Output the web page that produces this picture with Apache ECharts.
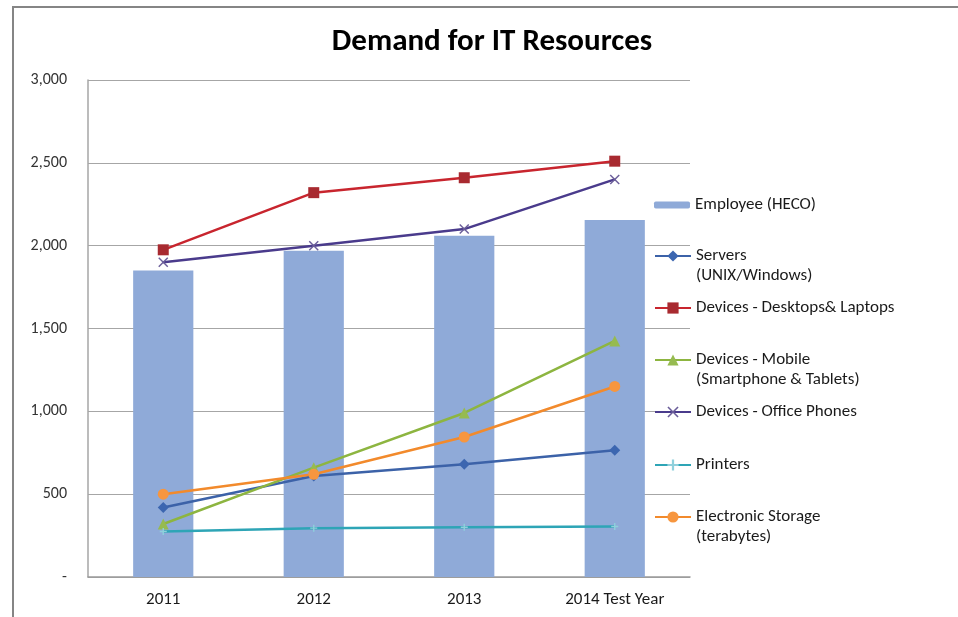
<!DOCTYPE html>
<html>
<head>
<meta charset="utf-8">
<script src="https://cdn.jsdelivr.net/npm/echarts@6/dist/echarts.min.js"></script>
<style>
  html, body { margin: 0; padding: 0; background: #fff; }
  #wrap { position: relative; width: 958px; height: 617px; overflow: hidden; }
  #chart { position: absolute; left: 0; top: 0; width: 958px; height: 617px; }
  #frame { position: absolute; left: 12px; top: 6px; width: 1000px; height: 700px;
           border-left: 2px solid #858585; border-top: 2px solid #858585; pointer-events: none; }
</style>
</head>
<body>
<div id="wrap">
  <div id="chart"></div>
  <div id="frame"></div>
</div>
<script>
// Yearly demand for IT resources
const categories = ['2011', '2012', '2013', '2014 Test Year'];
const employees = [1850, 1970, 2060, 2155];
const servers = [420, 610, 680, 765];
const desktops = [1975, 2320, 2410, 2510];
const mobile = [320, 660, 990, 1425];
const officePhones = [1900, 2000, 2100, 2400];
const printers = [275, 295, 300, 305];
const storage = [500, 620, 845, 1150];

const FONT = 'Carlito, Lato, "Open Sans", sans-serif';
const LINE_H = 20;

// legend labels: first line sits next to the key, extra lines hang below
const legendItems = [
  { name: 'Employee (HECO)', lines: ['Employee (HECO)'], y: 205 },
  { name: 'Servers (UNIX/Windows)', lines: ['Servers', '(UNIX/Windows)'], y: 256 },
  { name: 'Devices - Desktops& Laptops', lines: ['Devices - Desktops& Laptops'], y: 308 },
  { name: 'Devices - Mobile (Smartphone & Tablets)', lines: ['Devices - Mobile', '(Smartphone & Tablets)'], y: 360 },
  { name: 'Devices - Office Phones', lines: ['Devices - Office Phones'], y: 412 },
  { name: 'Printers', lines: ['Printers'], y: 465 },
  { name: 'Electronic Storage (terabytes)', lines: ['Electronic Storage', '(terabytes)'], y: 517 }
];

const legends = legendItems.map(function (it) {
  const isBar = it.name === 'Employee (HECO)';
  const ih = isBar ? 7 : 14;
  // pad with an empty line above so the first line centres on the key
  const txt = it.lines.length > 1 ? '\n' + it.lines.join('\n') : it.lines[0];
  const n = it.lines.length > 1 ? 3 : 1;
  const textHalf = n * LINE_H / 2;
  const top = it.y - ih / 2 - Math.max(0, textHalf - ih / 2);
  return {
    data: [it.name],
    orient: 'vertical',
    left: 654,
    top: top,
    padding: 0,
    itemWidth: 36,
    itemHeight: ih,
    selectedMode: false,
    formatter: function () { return txt; },
    textStyle: { fontFamily: FONT, fontSize: 17, color: '#1a1a1a', lineHeight: LINE_H }
  };
});

const xMark = 'path://M0,1 L1,0 L5,4 L9,0 L10,1 L6,5 L10,9 L9,10 L5,6 L1,10 L0,9 L4,5 Z';
const plusMark = 'path://M4,0 L6,0 L6,4 L10,4 L10,6 L6,6 L6,10 L4,10 L4,6 L0,6 L0,4 L4,4 Z';

function lineSeries(name, data, color, markColor, symbol, size) {
  return {
    name: name,
    type: 'line',
    data: data,
    symbol: symbol,
    symbolSize: size,
    lineStyle: { color: color, width: 2.5 },
    itemStyle: { color: markColor, borderColor: markColor, borderWidth: 0 },
    emphasis: { disabled: true },
    z: 3
  };
}

const chart = echarts.init(document.getElementById('chart'), null, { renderer: 'canvas' });
chart.setOption({
  backgroundColor: '#ffffff',
  animation: false,
  title: {
    text: 'Demand for IT Resources',
    left: 492,
    textAlign: 'center',
    top: 27,
    padding: 0,
    textStyle: { fontFamily: FONT, fontSize: 31, fontWeight: 'bold', color: '#000' }
  },
  legend: legends,
  grid: { left: 88, right: 268, top: 80, bottom: 40, containLabel: false },
  xAxis: {
    type: 'category',
    data: categories,
    boundaryGap: true,
    axisLine: { lineStyle: { color: '#9a9a9a', width: 1.5 } },
    axisTick: { show: false },
    axisLabel: { fontFamily: FONT, fontSize: 17, color: '#1a1a1a', margin: 14 }
  },
  yAxis: {
    type: 'value',
    min: 0,
    max: 3000,
    interval: 500,
    axisLine: { show: true, lineStyle: { color: '#a6a6a6', width: 1.5 } },
    axisTick: { show: false },
    splitLine: { lineStyle: { color: '#a6a6a6', width: 1.2 } },
    axisLabel: {
      fontFamily: FONT, fontSize: 16, color: '#333', margin: 21,
      formatter: function (v) { return v === 0 ? '-' : v.toLocaleString('en-US'); }
    }
  },
  series: [
    {
      name: 'Employee (HECO)',
      type: 'bar',
      data: employees,
      barWidth: '40%',
      itemStyle: { color: '#8faad8' },
      emphasis: { disabled: true },
      z: 2
    },
    lineSeries('Servers (UNIX/Windows)', servers, '#3c62a8', '#3c66b0', 'diamond', 11),
    lineSeries('Devices - Desktops& Laptops', desktops, '#c8252e', '#a82a30', 'rect', 11),
    lineSeries('Devices - Mobile (Smartphone & Tablets)', mobile, '#8db540', '#96bb50', 'triangle', 11),
    lineSeries('Devices - Office Phones', officePhones, '#4a3b8c', '#6a5d99', xMark, 10),
    lineSeries('Printers', printers, '#2ea5b6', '#8fd0dc', plusMark, 7),
    lineSeries('Electronic Storage (terabytes)', storage, '#f28a2c', '#f7963f', 'circle', 11)
  ]
});
</script>
</body>
</html>
